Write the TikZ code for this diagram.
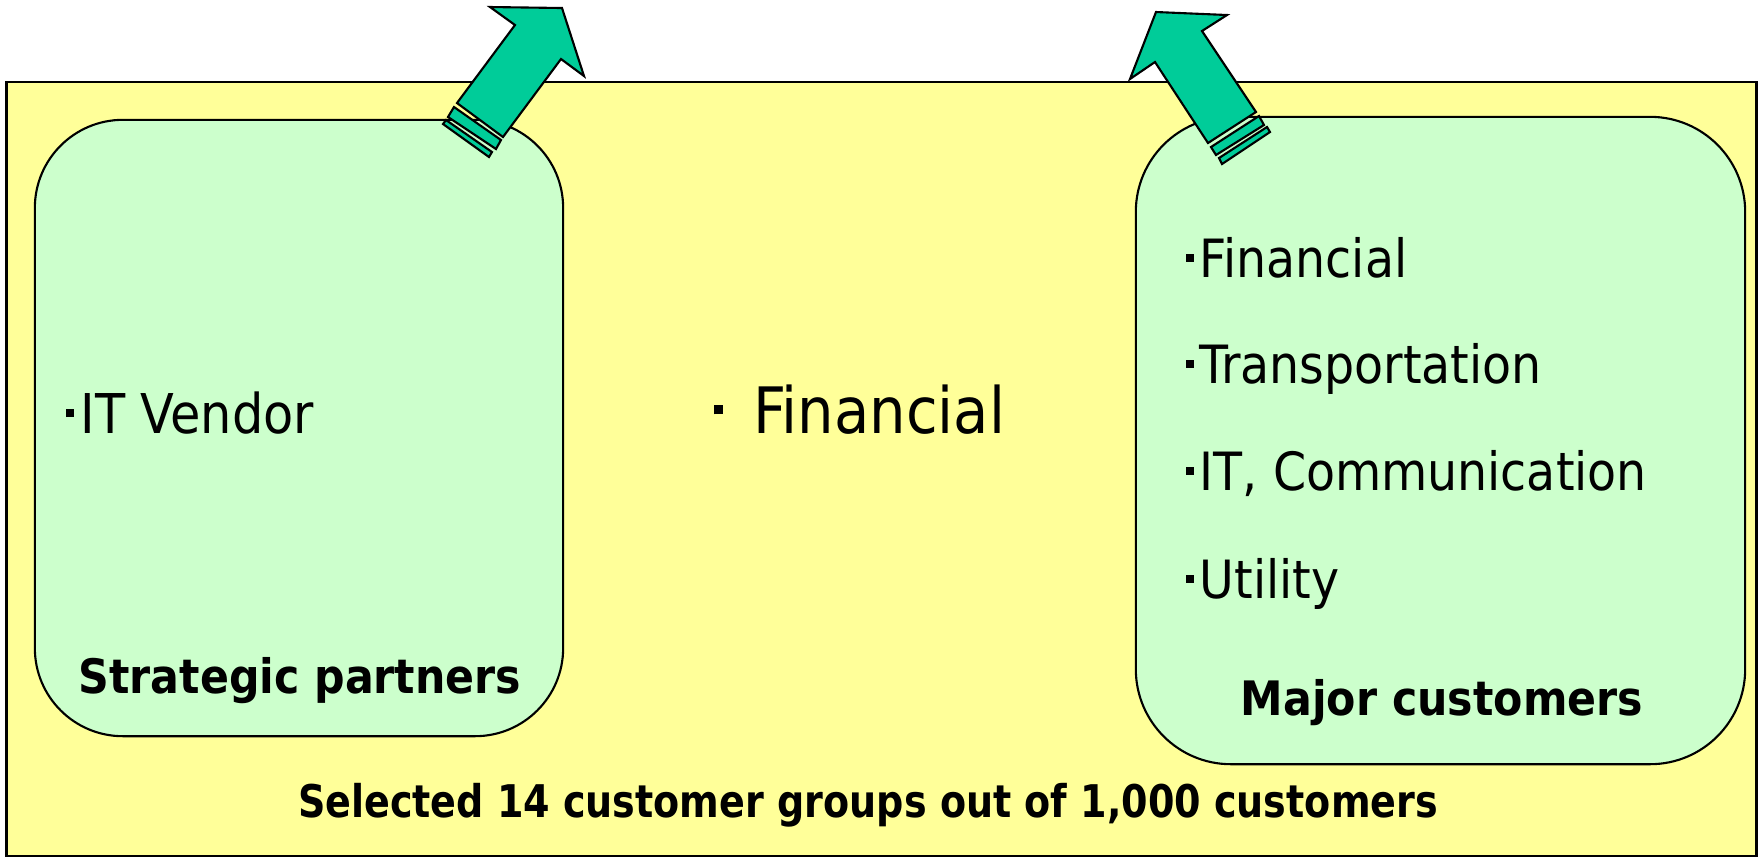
\documentclass[tikz,border=0pt]{standalone}
\usepackage{fontspec}
\setmainfont{DejaVu Sans Condensed}
\usepackage{xcolor}
\definecolor{groupyellow}{HTML}{FFFF99}
\definecolor{groupgreen}{HTML}{CCFFCC}
\definecolor{arrowgreen}{HTML}{00CC99}
\newcommand{\sqbullet}{\rule[0.29em]{0.15em}{0.15em}\hspace{0.12em}}
\tikzset{
  groupbox/.style={draw,fill=groupgreen,line width=0.6pt},
  itemtext/.style={anchor=base west,inner sep=0pt,font=\fontsize{15.6}{18}\selectfont},
  titletext/.style={anchor=base,inner sep=0pt,font=\fontsize{13.5}{16}\selectfont\bfseries},
  arrowpart/.style={draw,fill=arrowgreen,line width=0.6pt,line join=miter}
}
\begin{document}
\begin{tikzpicture}[x=0.01cm,y=-0.01cm]
			\useasboundingbox (0,0) rectangle (1762,859);
			% background panel
			\node (panel) [draw,fill=groupyellow,line width=0.6pt,minimum width=17.49cm,minimum height=7.74cm] at (881.5,469) {};
			% the two groups
			\node (partners) [groupbox,rounded corners=0.88cm,minimum width=5.28cm,minimum height=6.16cm] at (299,428) {};
			\node (customers) [groupbox,rounded corners=0.95cm,minimum width=6.09cm,minimum height=6.47cm] at (1440.5,440.5) {};
			% texts
			\node (vendor) [itemtext] at (65,433) {\sqbullet IT Vendor};
			\node (financial) [itemtext,font=\fontsize{18.2}{21}\selectfont] at (713,433) {\sqbullet\hspace{0.35em}Financial};
			\node (cfin) [itemtext,font=\fontsize{15}{18}\selectfont] at (1185,277) {\sqbullet Financial};
			\node (ctrans) [itemtext,font=\fontsize{15}{18}\selectfont] at (1185,383) {\sqbullet Transportation};
			\node (cit) [itemtext,font=\fontsize{15}{18}\selectfont] at (1185,490) {\sqbullet IT, Communication};
			\node (cutil) [itemtext,font=\fontsize{15}{18}\selectfont] at (1185,598) {\sqbullet Utility};
			\node (partnerstitle) [titletext] at (300,693) {Strategic partners};
			\node (customerstitle) [titletext] at (1442,715) {Major customers};
			\node (selected) [titletext,font=\fontsize{12.8}{15}\selectfont\bfseries] at (868,817) {\scalebox{0.94}[1]{Selected 14 customer groups out of 1,000 customers}};
			% left arrow
			\draw [arrowpart] (446,120) -- (443,124) -- (489,157) -- (492,152) -- cycle;
			\draw [arrowpart] (454,107) -- (448,117) -- (496,149) -- (501,140) -- cycle;
			\draw [arrowpart] (457,103) -- (515,25) -- (490,7) -- (562,8) -- (584,76) -- (561,59) -- (503,137) -- cycle;
			% right arrow
			\draw [arrowpart] (1219,158) -- (1222,164) -- (1270,132) -- (1267,127) -- cycle;
			\draw [arrowpart] (1211,147) -- (1216,155) -- (1264,125) -- (1259,116) -- cycle;
			\draw [arrowpart] (1156,12) -- (1227,15) -- (1202,31) -- (1256,112) -- (1208,143) -- (1155,62) -- (1130,79) -- cycle;
		\end{tikzpicture}
\end{document}
